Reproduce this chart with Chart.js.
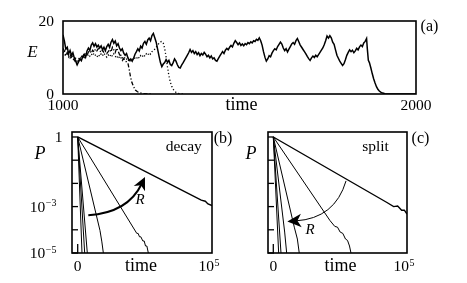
<!DOCTYPE html>
<html><head><meta charset="utf-8">
<script src="https://cdn.jsdelivr.net/npm/chart.js@4"></script>
<style>
html,body{margin:0;padding:0;background:#fff;}
#wrap{position:relative;width:467px;height:283px;overflow:hidden;background:#fff;}
canvas{position:absolute;left:0;top:0;}
</style></head><body>
<div id="wrap">
<canvas id="ca" width="467" height="283"></canvas>
<canvas id="cb" width="467" height="283"></canvas>
<canvas id="cc" width="467" height="283"></canvas>
</div>
<script>
// ---------- DATA ----------
// panel (a): E vs time, three runs  [time, E]
const solidSeries = [[1000,16.2],[1004,14.5],[1008,12.3],[1012,12.8],[1016,11.0],[1020,11.9],[1024,10.6],[1028,11.3],[1032,9.9],[1036,9.0],[1040,8.0],[1044,8.8],[1048,9.6],[1052,9.1],[1056,10.3],[1060,10.9],[1064,10.1],[1068,11.8],[1072,12.6],[1076,11.9],[1080,13.4],[1084,14.0],[1088,13.1],[1092,13.8],[1096,12.9],[1100,13.4],[1104,12.6],[1108,13.2],[1112,12.1],[1116,12.8],[1120,11.9],[1124,13.0],[1128,13.6],[1132,12.8],[1136,14.2],[1140,14.9],[1144,13.9],[1148,14.5],[1152,13.2],[1156,13.8],[1160,12.6],[1164,11.9],[1168,12.4],[1172,11.2],[1176,10.6],[1180,11.1],[1184,9.9],[1188,9.2],[1192,9.6],[1196,9.0],[1200,9.8],[1204,10.9],[1208,11.6],[1212,12.4],[1216,11.8],[1220,13.1],[1224,12.6],[1228,13.9],[1232,14.4],[1236,13.6],[1240,14.8],[1244,15.3],[1248,14.6],[1252,16.0],[1256,16.6],[1260,15.4],[1264,14.2],[1268,12.3],[1272,10.4],[1276,8.6],[1280,7.5],[1284,8.2],[1288,8.6],[1292,9.4],[1296,8.7],[1300,9.2],[1304,8.1],[1308,7.8],[1312,8.6],[1316,9.6],[1320,9.0],[1324,8.0],[1328,7.3],[1332,7.1],[1336,7.9],[1340,8.5],[1344,9.2],[1348,9.9],[1352,10.6],[1356,11.3],[1360,12.2],[1364,11.4],[1368,11.9],[1372,11.1],[1376,11.6],[1380,10.8],[1384,11.3],[1388,10.5],[1392,11.1],[1396,10.7],[1400,11.4],[1404,10.9],[1408,10.2],[1412,10.6],[1416,9.9],[1420,10.4],[1424,9.6],[1428,9.9],[1432,9.2],[1436,9.0],[1440,9.7],[1444,10.4],[1448,11.0],[1452,11.6],[1456,11.1],[1460,12.0],[1464,12.5],[1468,12.1],[1472,12.8],[1476,13.3],[1480,12.9],[1484,13.9],[1488,14.6],[1492,14.1],[1496,13.5],[1500,14.0],[1504,13.3],[1508,13.7],[1512,13.2],[1516,13.8],[1520,13.5],[1524,14.1],[1528,13.8],[1532,14.3],[1536,14.0],[1540,14.6],[1544,14.4],[1548,15.0],[1552,14.7],[1556,15.4],[1560,14.6],[1564,13.4],[1568,11.6],[1572,10.1],[1576,9.0],[1580,9.6],[1584,10.5],[1588,10.2],[1592,11.2],[1596,11.9],[1600,12.4],[1604,12.1],[1608,13.0],[1612,13.6],[1616,14.2],[1620,13.7],[1624,12.6],[1628,11.9],[1632,12.4],[1636,11.5],[1640,12.3],[1644,13.0],[1648,13.7],[1652,14.1],[1656,13.6],[1660,14.6],[1664,15.2],[1668,14.3],[1672,13.4],[1676,12.8],[1680,12.2],[1684,11.6],[1688,11.0],[1692,10.3],[1696,9.7],[1700,9.2],[1704,9.9],[1708,10.4],[1712,10.0],[1716,10.6],[1720,10.2],[1724,10.8],[1728,11.4],[1732,12.0],[1736,12.6],[1740,13.5],[1744,14.6],[1748,15.9],[1752,15.3],[1756,16.0],[1760,15.4],[1764,14.2],[1768,13.6],[1772,12.1],[1776,10.6],[1780,9.8],[1784,9.0],[1788,8.4],[1792,7.8],[1796,8.3],[1800,9.4],[1804,10.6],[1808,11.4],[1812,12.1],[1816,11.6],[1820,12.0],[1824,11.3],[1828,11.8],[1832,12.5],[1836,12.1],[1840,12.9],[1844,13.4],[1848,13.0],[1852,14.0],[1856,14.4],[1860,15.2],[1862,12.5],[1865,9.2],[1868,8.6],[1872,7.2],[1876,5.6],[1880,4.2],[1884,3.0],[1888,2.0],[1892,1.3],[1896,0.8],[1900,0.5],[1906,0.25],[1912,0.1],[1920,0.03],[1930,0],[2000,0]];
const dashDotSeries = [[1000,12.5],[1004,11.8],[1008,10.6],[1012,11.4],[1016,10.2],[1020,10.9],[1024,9.8],[1028,10.4],[1032,9.4],[1036,8.6],[1040,8.2],[1044,9.0],[1048,9.7],[1052,10.3],[1056,9.8],[1060,10.8],[1064,11.3],[1068,10.6],[1072,11.5],[1076,11.9],[1080,11.2],[1084,12.0],[1088,11.5],[1092,12.3],[1096,11.8],[1100,12.4],[1104,11.9],[1108,11.4],[1112,12.0],[1116,11.3],[1120,11.8],[1124,11.1],[1128,11.6],[1132,12.2],[1136,11.5],[1140,12.8],[1144,12.1],[1148,11.4],[1152,12.6],[1156,11.8],[1160,10.8],[1164,10.0],[1168,9.2],[1172,9.7],[1176,9.0],[1180,8.8],[1184,8.4],[1188,6.5],[1191,4.8],[1195,3.2],[1200,2.0],[1205,1.1],[1211,0.6],[1218,0.3],[1228,0.1],[1240,0],[1250,0]];
const dottedSeries = [[1000,11.6],[1004,11.0],[1008,10.4],[1012,11.2],[1016,10.6],[1020,9.9],[1024,10.5],[1028,9.6],[1032,9.2],[1036,9.8],[1040,9.0],[1044,9.5],[1048,10.2],[1052,9.7],[1056,10.5],[1060,10.0],[1064,10.7],[1068,10.2],[1072,10.9],[1076,10.4],[1080,11.0],[1084,10.5],[1088,11.2],[1092,10.6],[1096,10.1],[1100,10.8],[1104,10.3],[1108,11.0],[1112,10.5],[1116,11.2],[1120,10.6],[1124,10.1],[1128,10.7],[1132,10.2],[1136,10.9],[1140,10.3],[1144,11.0],[1148,10.4],[1152,9.8],[1156,10.5],[1160,9.9],[1164,10.6],[1168,10.0],[1172,9.5],[1176,10.1],[1180,9.6],[1184,9.0],[1188,9.5],[1192,9.1],[1196,9.7],[1200,9.3],[1204,9.9],[1208,9.6],[1212,10.3],[1216,9.8],[1220,10.5],[1224,10.1],[1228,10.8],[1232,10.3],[1236,11.0],[1240,10.6],[1244,11.3],[1248,10.9],[1252,11.6],[1256,11.8],[1260,12.3],[1264,12.8],[1268,13.4],[1272,13.9],[1276,14.3],[1280,14.4],[1284,14.0],[1288,12.5],[1292,10.2],[1296,7.4],[1300,5.0],[1304,3.3],[1308,2.1],[1312,1.3],[1318,0.6],[1325,0.2],[1334,0],[1345,0]];
const topXTicks = [1000, 2000];
const topYTicks = [0, 20];

// panels (b),(c): survival probability P vs time (log scale)
const decayTimes = [
  [0, 92000, 95000, 97000, 100000],
  [0, 44000, 45000, 46000, 47000, 48500, 49500, 50500, 51500, 52600],
  [0, 16600, 18000, 19100],
  [0, 7150],
  [0, 5200],
  [0, 3200]
];
const decayProbs = [
  [1, 1.9e-3, 1.7e-3, 1.3e-3, 1.1e-3],
  [1, 7e-5, 7e-5, 5e-5, 5e-5, 3.3e-5, 3.3e-5, 2e-5, 2e-5, 1e-5],
  [1, 9.3e-5, 3e-5, 1e-5],
  [1, 1e-5],
  [1, 1e-5],
  [1, 1e-5]
];
const splitTimes = [
  [0, 85000, 90000, 93000, 96000, 98000, 100000],
  [0, 42400, 46000, 48000, 50000, 52000, 54000, 55500, 57000, 58100],
  [0, 15700, 18000, 19400],
  [0, 8500, 10000],
  [0, 5750],
  [0, 4000]
];
const splitProbs = [
  [1, 1.5e-3, 1.0e-3, 1.05e-3, 7e-4, 7e-4, 4.8e-4],
  [1, 2.5e-4, 1.4e-4, 1.3e-4, 8e-5, 7e-5, 4e-5, 3.5e-5, 2e-5, 1e-5],
  [1, 1.3e-4, 4e-5, 1e-5],
  [1, 8e-5, 1e-5],
  [1, 1e-5],
  [1, 1e-5]
];
const pTickMarks = [1, 1e-1, 1e-2, 1e-3, 1e-4, 1e-5];
const pTickLabels = [[1, '1', ''], [1e-3, '10', '\u22123'], [1e-5, '10', '\u22125']];
const timeTicks = [[0, '0', ''], [100000, '10', '5']];

// ---------- helpers ----------
const SERIF = '"Liberation Serif", "DejaVu Serif", serif';
function txt(ctx, s, x, y, size, align, italic, base) {
  ctx.save();
  ctx.font = (italic ? 'italic ' : '') + size + 'px ' + SERIF;
  ctx.fillStyle = '#000';
  ctx.textAlign = align || 'center';
  ctx.textBaseline = base || 'alphabetic';
  ctx.fillText(s, x, y);
  ctx.restore();
}
function powTxt(ctx, b, sup, x, y, align) {
  ctx.save();
  ctx.font = '15.5px ' + SERIF;
  const wb = ctx.measureText(b).width;
  ctx.font = '10px ' + SERIF;
  const ws = sup ? ctx.measureText(sup).width + 0.5 : 0;
  const w = wb + ws;
  let x0 = align === 'right' ? x - w : (align === 'center' ? x - w / 2 : x);
  ctx.fillStyle = '#000';
  ctx.textAlign = 'left';
  ctx.textBaseline = 'alphabetic';
  ctx.font = '15.5px ' + SERIF;
  ctx.fillText(b, x0, y);
  if (sup) { ctx.font = '10px ' + SERIF; ctx.fillText(sup, x0 + wb + 0.5, y - 5.5); }
  ctx.restore();
}
function frame(ctx, a) {
  ctx.save();
  ctx.strokeStyle = '#000';
  ctx.lineWidth = 1.6;
  ctx.strokeRect(a.left, a.top, a.right - a.left, a.bottom - a.top);
  ctx.restore();
}
function drawArrow(chart, def) {
  const ctx = chart.ctx, xs = chart.scales.x, ys = chart.scales.y;
  const p0 = [xs.getPixelForValue(def.from[0]), ys.getPixelForValue(def.from[1])];
  const pc = [xs.getPixelForValue(def.ctrl[0]), ys.getPixelForValue(def.ctrl[1])];
  const p1 = [xs.getPixelForValue(def.to[0]), ys.getPixelForValue(def.to[1])];
  let dx = p1[0] - pc[0], dy = p1[1] - pc[1];
  const L = Math.hypot(dx, dy); dx /= L; dy /= L;
  const nx = -dy, ny = dx;
  const hl = def.head, hw = def.head * 0.48;
  const end = [p1[0] - dx * hl * 0.6, p1[1] - dy * hl * 0.6];
  ctx.save();
  ctx.strokeStyle = '#000'; ctx.fillStyle = '#000';
  ctx.lineWidth = def.width;
  ctx.beginPath(); ctx.moveTo(p0[0], p0[1]);
  ctx.quadraticCurveTo(pc[0], pc[1], end[0], end[1]);
  ctx.stroke();
  ctx.beginPath();
  ctx.moveTo(p1[0], p1[1]);
  ctx.lineTo(p1[0] - dx * hl + nx * hw, p1[1] - dy * hl + ny * hw);
  ctx.lineTo(p1[0] - dx * hl * 0.72, p1[1] - dy * hl * 0.72);
  ctx.lineTo(p1[0] - dx * hl - nx * hw, p1[1] - dy * hl - ny * hw);
  ctx.closePath(); ctx.fill();
  ctx.restore();
}
function pairsToXY(p) { return p.map(d => ({x: d[0], y: d[1]})); }
function listsToXY(ts, ps) { return ts.map((t, i) => ({x: t, y: ps[i]})); }

Chart.defaults.animation = false;
Chart.defaults.responsive = false;
Chart.defaults.plugins.legend.display = false;
Chart.defaults.plugins.tooltip.enabled = false;
Chart.defaults.elements.point.radius = 0;
Chart.defaults.elements.line.tension = 0;

// ---------- panel (a) ----------
new Chart(document.getElementById('ca'), {
  type: 'line',
  data: { datasets: [
    { data: pairsToXY(dottedSeries), borderColor: '#000', borderWidth: 1.3, borderDash: [1.2, 2.2] },
    { data: pairsToXY(dashDotSeries), borderColor: '#000', borderWidth: 1.3, borderDash: [4, 2, 1.2, 2] },
    { data: pairsToXY(solidSeries), borderColor: '#000', borderWidth: 1.5 }
  ]},
  options: {
    layout: { padding: { left: 63, top: 21, right: 51, bottom: 189 } },
    scales: {
      x: { type: 'linear', min: 1000, max: 2000, display: false, bounds: 'data' },
      y: { type: 'linear', min: 0, max: 20, display: false, bounds: 'data' }
    }
  },
  plugins: [{
    id: 'decoA',
    afterDraw(chart) {
      const ctx = chart.ctx, a = chart.chartArea, xs = chart.scales.x, ys = chart.scales.y;
      frame(ctx, a);
      topYTicks.forEach(v => txt(ctx, String(v), 54, ys.getPixelForValue(v) + 5, 15.5, 'right'));
      topXTicks.forEach(v => txt(ctx, String(v), xs.getPixelForValue(v), 110, 15.5, 'center'));
      txt(ctx, 'time', (a.left + a.right) / 2 + 2, 109.5, 18, 'center');
      txt(ctx, 'E', 32.5, 57, 17, 'center', true);
      txt(ctx, '(a)', 429.5, 27, 16, 'center', false, 'middle');
    }
  }]
});

// ---------- panels (b),(c) ----------
const arrowB = { from: [7900, 4.2e-4], ctrl: [37450, 5.6e-4], to: [50100, 0.019], width: 2, head: 13 };
const arrowC = { from: [54400, 0.0128], ctrl: [46100, 3.1e-4], to: [10500, 2.3e-4], width: 1, head: 14 };

function pPanel(id, times, probs, pad, xmin, opts) {
  const ds = times.map((ts, i) => ({
    data: listsToXY(ts, probs[i]), borderColor: '#000', borderWidth: i === 0 ? 1.4 : 1
  }));
  return new Chart(document.getElementById(id), {
    type: 'line',
    data: { datasets: ds },
    options: {
      layout: { padding: pad },
      scales: {
        x: { type: 'linear', min: xmin, max: 100000, display: false, bounds: 'data' },
        y: { type: 'logarithmic', min: 1e-5, max: 1.64, display: false, bounds: 'data' }
      }
    },
    plugins: [{
      id: 'deco' + id,
      afterDraw(chart) {
        const ctx = chart.ctx, a = chart.chartArea, xs = chart.scales.x, ys = chart.scales.y;
        frame(ctx, a);
        ctx.save(); ctx.strokeStyle = '#000'; ctx.lineWidth = 1.3;
        pTickMarks.forEach(v => {
          const y = ys.getPixelForValue(v);
          ctx.beginPath(); ctx.moveTo(a.left, y); ctx.lineTo(a.left + 6, y); ctx.stroke();
        });
        const x0 = xs.getPixelForValue(0);
        ctx.beginPath(); ctx.moveTo(x0, a.bottom); ctx.lineTo(x0, a.bottom - 9); ctx.stroke();
        ctx.restore();
        if (opts.yLabels) {
          pTickLabels.forEach(([v, b, s]) => {
            const y = ys.getPixelForValue(v) + 5;
            if (s) powTxt(ctx, b, s, 56.5, y, 'right'); else powTxt(ctx, b, '', 62.5, y, 'right');
          });
        }
        timeTicks.forEach(([v, b, s]) => powTxt(ctx, b, s, xs.getPixelForValue(v) - (s ? 3 : 0), 271, 'center'));
        txt(ctx, 'time', opts.timeX, 271, 18, 'center');
        txt(ctx, 'P', opts.pX, 158.5, 18, 'center', true);
        txt(ctx, opts.name, opts.nameX, 150.5, 15.5, 'center');
        txt(ctx, opts.tag, opts.tagX, 139, 16, 'center', false, 'middle');
        drawArrow(chart, opts.arrow);
        txt(ctx, 'R', xs.getPixelForValue(opts.rAt[0]), ys.getPixelForValue(opts.rAt[1]) + 4, 15, 'center', true);
      }
    }]
  });
}

pPanel('cb', decayTimes, decayProbs, { left: 72, top: 132, right: 255, bottom: 30 }, -4244,
  { yLabels: true, timeX: 141, pX: 40, name: 'decay', nameX: 183.8, tag: '(b)', tagX: 223, arrow: arrowB, rAt: [46400, 1.87e-3] });
pPanel('cc', splitTimes, splitProbs, { left: 268, top: 132, right: 60, bottom: 30 }, -3964,
  { yLabels: false, timeX: 340.5, pX: 251, name: 'split', nameX: 375.5, tag: '(c)', tagX: 420.5, arrow: arrowC, rAt: [27450, 1e-4] });
</script>
</body></html>
